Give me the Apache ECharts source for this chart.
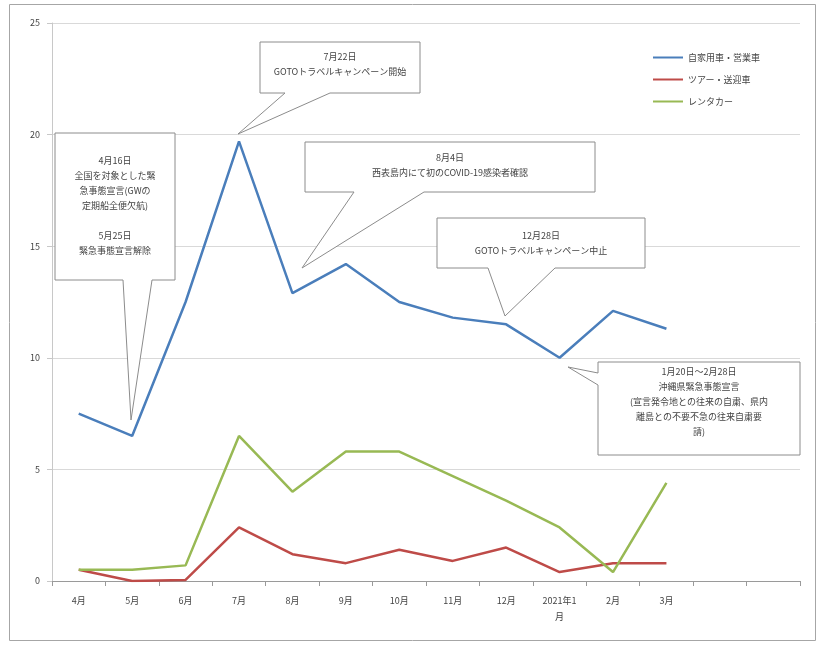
<!DOCTYPE html>
<html>
<head>
<meta charset="utf-8">
<script src="https://cdn.jsdelivr.net/npm/echarts@6/dist/echarts.min.js"></script>
<style>
html,body{margin:0;padding:0;background:#fff;}
#chart{width:824px;height:648px;}
</style>
</head>
<body>
<div id="chart"></div>
<script>
const categories = ['4月','5月','6月','7月','8月','9月','10月','11月','12月','2021年1月','2月','3月','',''];
const seriesNames = ['自家用車・営業車','ツアー・送迎車','レンタカー'];
const privateCars = [7.5, 6.5, 12.5, 19.7, 12.9, 14.2, 12.5, 11.8, 11.5, 10.0, 12.1, 11.3];
const tourCars = [0.5, 0.0, 0.05, 2.4, 1.2, 0.8, 1.4, 0.9, 1.5, 0.4, 0.8, 0.8];
const rentalCars = [0.5, 0.5, 0.7, 6.5, 4.0, 5.8, 5.8, 4.7, 3.6, 2.4, 0.4, 4.4];
const yTicks = [0, 5, 10, 15, 20, 25];

const FONT = '"Noto Sans CJK JP", "Noto Sans", sans-serif';
const colors = ['#4a7ebb', '#be4b48', '#98b954'];

function callout(points, cx, cy, text) {
  return [
    { type: 'polygon', shape: { points: points }, style: { fill: '#fff', stroke: '#8c8c8c', lineWidth: 1 }, z: 10 },
    { type: 'text', x: cx, y: cy, style: { text: text, fill: '#444', font: '9px ' + FONT, align: 'center', verticalAlign: 'middle', lineHeight: 15 }, z: 11 }
  ];
}

const chart = echarts.init(document.getElementById('chart'));
const graphics = [
  { type: 'rect', shape: { x: 9.5, y: 4.5, width: 806, height: 636 }, style: { fill: 'none', stroke: '#a6a6a6', lineWidth: 1 }, z: 0 }
].concat(
  callout([[55,133],[175,133],[175,280],[152,280],[131,420],[123,280],[55,280]], 115, 206,
    '4月16日\n全国を対象とした緊\n急事態宣言(GWの\n定期船全便欠航)\n\n5月25日\n緊急事態宣言解除'),
  callout([[260,42],[420,42],[420,93],[330,93],[238,134],[285,93],[260,93]], 340, 64,
    '7月22日\nGOTOトラベルキャンペーン開始'),
  callout([[305,142],[595,142],[595,192],[424,192],[302,268],[354,192],[305,192]], 450, 165,
    '8月4日\n西表島内にて初のCOVID-19感染者確認'),
  callout([[437,218],[645,218],[645,268],[555,268],[505,316],[488,268],[437,268]], 541, 243,
    '12月28日\nGOTOトラベルキャンペーン中止'),
  callout([[598,362],[800,362],[800,455],[598,455],[598,385],[568,367],[598,373]], 699, 402,
    '1月20日～2月28日\n沖縄県緊急事態宣言\n(宣言発令地との往来の自粛、県内\n離島との不要不急の往来自粛要\n請)')
);

chart.setOption({
  backgroundColor: '#fff',
  animation: false,
  color: colors,
  textStyle: { fontFamily: FONT },
  grid: { left: 52, top: 23, right: 24, bottom: 67, containLabel: false },
  legend: {
    orient: 'vertical',
    left: 648, top: 48,
    itemWidth: 30, itemHeight: 2, itemGap: 13,
    icon: 'rect',
    textStyle: { fontSize: 9, color: '#444', fontFamily: FONT },
    data: seriesNames
  },
  xAxis: {
    type: 'category',
    data: categories,
    boundaryGap: true,
    axisLine: { lineStyle: { color: '#9a9a9a' } },
    axisTick: { show: true, length: 5, lineStyle: { color: '#9a9a9a' } },
    axisLabel: {
      color: '#444', fontSize: 9, margin: 12, interval: 0, lineHeight: 16,
      formatter: v => v === '2021年1月' ? '2021年1\n月' : v
    },
    splitLine: { show: false }
  },
  yAxis: {
    type: 'value',
    min: yTicks[0], max: yTicks[yTicks.length - 1], interval: 5,
    axisLine: { show: true, lineStyle: { color: '#c8c8c8' } },
    axisTick: { show: true, length: 5, lineStyle: { color: '#c8c8c8' } },
    axisLabel: { color: '#444', fontSize: 9, margin: 12 },
    splitLine: { show: true, lineStyle: { color: '#d9d9d9', width: 1 } }
  },
  series: [
    { name: seriesNames[0], type: 'line', data: privateCars, symbol: 'none', lineStyle: { width: 2.5, color: colors[0] } },
    { name: seriesNames[1], type: 'line', data: tourCars, symbol: 'none', lineStyle: { width: 2.5, color: colors[1] } },
    { name: seriesNames[2], type: 'line', data: rentalCars, symbol: 'none', lineStyle: { width: 2.5, color: colors[2] } }
  ],
  graphic: graphics
});
</script>
</body>
</html>
